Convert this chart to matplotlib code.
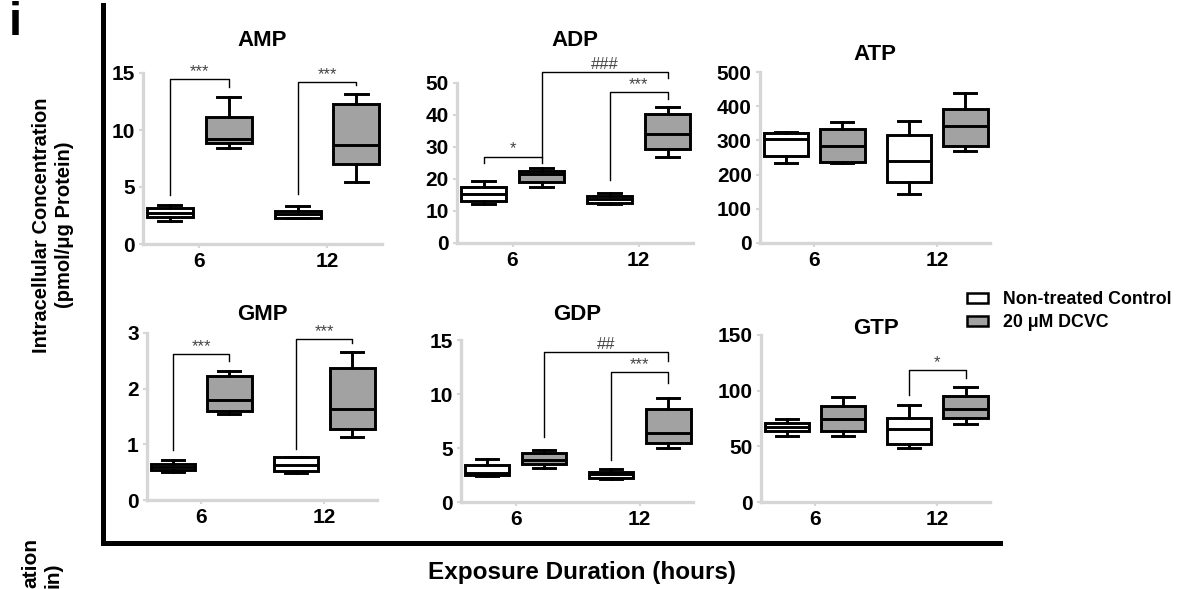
import matplotlib
matplotlib.use("Agg")
import matplotlib.pyplot as plt
from matplotlib import font_manager
from matplotlib.lines import Line2D
from matplotlib.patches import Patch

W, H = 1187, 589

names = {f.name for f in font_manager.fontManager.ttflist}
BASE = "Liberation Sans" if "Liberation Sans" in names else "DejaVu Sans"
NARROW = "Liberation Sans Narrow" if "Liberation Sans Narrow" in names else BASE
plt.rcParams["font.family"] = BASE
plt.rcParams["font.weight"] = "bold"

# %% data: box stats [whislo, q1, med, q3, whishi] for ctrl 6h, DCVC 6h, ctrl 12h, DCVC 12h
panels = ["AMP", "ADP", "ATP", "GMP", "GDP", "GTP"]
hours = ["6", "12"]
groups = ["Non-treated Control", "20 \u03bcM DCVC"]

amp = [[2.0, 2.4, 2.75, 3.2, 3.4], [8.4, 8.85, 9.2, 11.1, 12.9],
       [2.25, 2.3, 2.65, 2.9, 3.3], [5.45, 7.0, 8.7, 12.3, 13.2]]
adp = [[12.2, 13.1, 15.3, 17.5, 19.4], [17.5, 19.0, 21.5, 22.5, 23.4],
       [12.1, 12.6, 13.7, 14.8, 15.6], [26.8, 29.3, 34.1, 40.2, 42.4]]
atp = [[234, 254, 304, 321, 324], [234, 237, 284, 333, 354],
       [143, 178, 240, 316, 357], [270, 285, 342, 393, 440]]
gmp = [[0.5, 0.54, 0.6, 0.65, 0.72], [1.54, 1.6, 1.79, 2.22, 2.32],
       [0.49, 0.52, 0.63, 0.77, 0.77], [1.13, 1.27, 1.63, 2.37, 2.66]]
gdp = [[2.4, 2.5, 2.7, 3.4, 4.0], [3.15, 3.5, 3.9, 4.55, 4.8],
       [2.1, 2.25, 2.55, 2.8, 3.1], [5.0, 5.45, 6.4, 8.6, 9.6]]
gtp = [[59.3, 63.8, 67, 71, 74.6], [59.3, 63.8, 74.6, 86.3, 94.3],
       [48.5, 52.1, 65.6, 75.5, 87.2], [70, 75.5, 83.5, 95, 103]]
data = [amp, adp, atp, gmp, gdp, gtp]

yticks = [[0, 5, 10, 15], [0, 10, 20, 30, 40, 50], [0, 100, 200, 300, 400, 500],
          [0, 1, 2, 3], [0, 5, 10, 15], [0, 50, 100, 150]]

# significance brackets: panel, left box, right box, left foot, top, right foot, label
# box index: 0 ctrl 6, 1 DCVC 6, 2 ctrl 12, 3 DCVC 12
brackets = [
    (0, 0, 1, 4.3, 14.5, 13.8, "***"),
    (0, 2, 3, 4.4, 14.2, 13.95, "***"),
    (1, 0, 1, 25.0, 27.0, 25.0, "*"),
    (1, 1, 3, 26.9, 53.5, 51.5, "###"),
    (1, 2, 3, 19.7, 47.2, 45.0, "***"),
    (3, 0, 1, 0.9, 2.62, 2.5, "***"),
    (3, 2, 3, 0.92, 2.89, 2.82, "***"),
    (4, 1, 3, 6.0, 13.9, 13.1, "##"),
    (4, 2, 3, 3.9, 12.0, 11.0, "***"),
    (5, 2, 3, 96, 118.6, 111, "*"),
]

# %% layout (pixels: left, top, right, bottom of each plot frame)
ax_px = [(143, 73, 382, 244), (457, 83, 693, 243), (760, 72, 990, 243),
         (147, 333, 377, 500), (461, 340, 693, 502), (761, 335, 990, 502)]
title_y = [41, 41, 54, 314, 314, 328]

positions = [-0.23, 0.23, 0.77, 1.23]
fills = ["white", "#a2a2a2", "white", "#a2a2a2"]
AXGRAY = "#d6d6d6"

fig = plt.figure(figsize=(W / 100, H / 100), dpi=100)
axes = []
for i, name in enumerate(panels):
    l, t, r, b = ax_px[i]
    ax = fig.add_axes([l / W, 1 - b / H, (r - l) / W, (b - t) / H])
    stats = []
    for s in data[i]:
        stats.append(dict(whislo=s[0], q1=s[1], med=s[2], q3=s[3], whishi=s[4]))
    bp = ax.bxp(stats, positions=positions, widths=0.36, patch_artist=True,
                showfliers=False, capwidths=0.18,
                boxprops=dict(edgecolor="black", linewidth=2.1),
                medianprops=dict(color="black", linewidth=2.1),
                whiskerprops=dict(color="black", linewidth=2.1),
                capprops=dict(color="black", linewidth=2.1))
    for patch, c in zip(bp["boxes"], fills):
        patch.set_facecolor(c)
    ax.set_xlim(-0.44, 1.43)
    ax.set_ylim(yticks[i][0], yticks[i][-1])
    ax.set_yticks(yticks[i])
    ax.set_xticks([0, 1])
    ax.set_xticklabels(hours)
    for sp in ["top", "right"]:
        ax.spines[sp].set_visible(False)
    for sp in ["left", "bottom"]:
        ax.spines[sp].set_color(AXGRAY)
        ax.spines[sp].set_linewidth(2.4)
    ax.tick_params(colors=AXGRAY, labelcolor="black", length=3, width=1.5,
                   labelsize=15, pad=3)
    for lab in ax.get_xticklabels() + ax.get_yticklabels():
        lab.set_fontweight("bold")
    ax.patch.set_alpha(0)
    fig.text((l + r) / 2 / W, 1 - title_y[i] / H, name, ha="center", va="center",
             fontsize=16, fontweight="bold")
    axes.append(ax)

for p, a, b2, y1, yt, y2, lab in brackets:
    ax = axes[p]
    x1, x2 = positions[a], positions[b2]
    ax.plot([x1, x1, x2, x2], [y1, yt, yt, y2], color="black", lw=1.0,
            clip_on=False)
    ax.annotate(lab, ((x1 + x2) / 2, yt), xytext=(0, 0), textcoords="offset points",
                ha="center", va="bottom", fontsize=12, color="#444444",
                fontweight="normal", annotation_clip=False)

# %% frame, labels, legend
fig.add_artist(Line2D([103 / W, 103 / W], [1 - 5 / H, 1 - 543 / H], lw=3.6,
                      color="black", solid_capstyle="projecting"))
fig.add_artist(Line2D([103 / W, 1000 / W], [1 - 543 / H, 1 - 543 / H], lw=3.6,
                      color="black", solid_capstyle="projecting"))

fig.text(15 / W, 1 - 23 / H, "i", fontsize=34, fontweight="bold", ha="center",
         va="center")
fig.text(53 / W, 1 - 225 / H, "Intracellular Concentration\n(pmol/\u03bcg Protein)",
         rotation=90, ha="center", va="center", multialignment="center",
         fontsize=14.5, fontweight="bold", linespacing=1.2)
# cut-off label of the neighbouring figure
fig.text(31 / W, 1 - 588 / H, "ation", rotation=90, ha="center", va="bottom",
         fontsize=15, fontweight="bold")
fig.text(53 / W, 1 - 588 / H, "in)", rotation=90, ha="center", va="bottom",
         fontsize=15, fontweight="bold")
fig.text(582 / W, 1 - 572 / H, "Exposure Duration (hours)", ha="center",
         va="center", fontsize=17.5, fontweight="bold", family=NARROW)

handles = [Patch(facecolor=c, edgecolor="black", linewidth=1.8) for c in fills[:2]]
fig.legend(handles, groups, loc="upper left", bbox_to_anchor=(967 / W, 1 - 291 / H),
           frameon=False, prop=dict(size=12.8, weight="bold"), handlelength=1.2,
           handleheight=0.5, labelspacing=0.35, handletextpad=0.8,
           borderaxespad=0, borderpad=0)

fig.savefig("out.png", dpi=100)
